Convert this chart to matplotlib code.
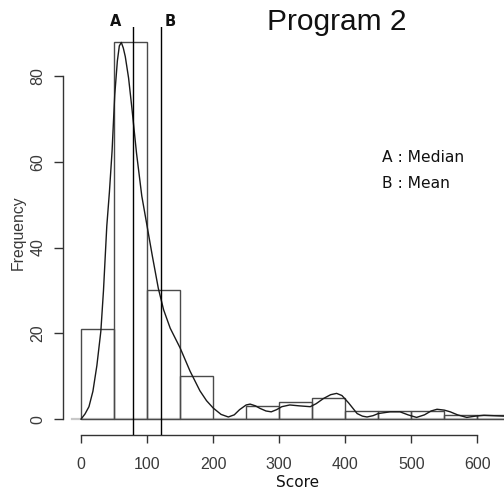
import matplotlib
matplotlib.use("Agg")
import matplotlib.pyplot as plt
import numpy as np

# ---- data ----
bin_edges = [0, 50, 100, 150, 200, 250, 300, 350, 400, 450, 500, 550, 600, 650]
counts = [21, 88, 30, 10, 0, 3, 4, 5, 2, 2, 2, 1, 1]

dens_x = [0, 6, 12, 18, 24, 30, 34, 39, 43, 47, 51, 55, 58, 61, 64, 67, 72, 77,
          84, 92, 100, 108, 117, 125, 135, 150, 165, 180, 190, 200, 212, 223,
          232, 240, 250, 256, 264, 271, 280, 288, 296, 304, 316, 330, 347, 356,
          367, 378, 387, 395, 405, 418, 426, 433, 442, 450, 468, 483, 495, 508,
          520, 530, 539, 550, 559, 570, 584, 597, 610, 625, 640, 660, 700]
dens_y = [0, 1.2, 2.9, 6.5, 12.5, 20.5, 30, 45, 53, 62.5, 75.5, 83.5, 87, 87.8,
          86.5, 84.5, 79.5, 72.5, 62, 52, 45, 38, 30.5, 25.5, 21.2, 16.6, 11.2,
          6.6, 4.3, 2.6, 1.1, 0.5, 1.0, 2.2, 3.3, 3.5, 3.1, 2.5, 1.9, 1.7, 2.2,
          2.9, 3.3, 3.1, 2.9, 3.6, 4.8, 5.7, 6.0, 5.5, 3.8, 1.3, 0.7, 0.5, 0.8,
          1.3, 1.7, 1.7, 1.0, 0.4, 1.0, 1.9, 2.3, 2.1, 1.7, 1.0, 0.4, 0.7, 0.9,
          0.8, 0.7, 0.6, 0.4]

median_val = 78
mean_val = 121

x_ticks = [0, 100, 200, 300, 400, 500, 600]
y_ticks = [0, 20, 40, 60, 80]

title = "Program 2"
xlabel = "Score"
ylabel = "Frequency"
legend_lines = ["A : Median", "B : Mean"]

# ---- figure ----
W, H = 504, 490
fig = plt.figure(figsize=(W / 100, H / 100), dpi=100)
fig.patch.set_facecolor("white")

ax = fig.add_axes([63 / W, 55 / H, 485 / W, 408 / H])
xlo, xhi = -27.3, 707
ax.set_xlim(xlo, xhi)
ax.set_ylim(-3.7, 91.4)
ax.set_facecolor("white")

# zero reference line
ax.axhline(0, xmin=(-13.6 - xlo) / (xhi - xlo), xmax=1, color="#c8c8c8", lw=1.6, zorder=1)

# histogram bars
lefts = bin_edges[:-1]
ax.bar(lefts, counts, width=np.diff(bin_edges), align="edge", fill=False,
       edgecolor="#4a4a4a", linewidth=1.0, zorder=2)

# density curve
ax.plot(dens_x, dens_y, color="#1a1a1a", lw=1.0, zorder=3)

# median / mean lines
ax.axvline(median_val, color="black", lw=1.0, zorder=4)
ax.axvline(mean_val, color="black", lw=1.0, zorder=4)

# axes styling (R-like)
for s in ["top", "right"]:
    ax.spines[s].set_visible(False)
ax.spines["left"].set_bounds(0, 80)
ax.spines["bottom"].set_bounds(0, 600)
for s in ["left", "bottom"]:
    ax.spines[s].set_color("#333333")
    ax.spines[s].set_linewidth(1.0)

ax.set_xticks(x_ticks)
ax.set_xticklabels([str(t) for t in x_ticks], fontfamily="Liberation Sans",
                   fontsize=11.5, color="#3a3a3a")
ax.set_yticks(y_ticks)
ax.set_yticklabels([str(t) for t in y_ticks], fontfamily="Liberation Sans",
                   fontsize=11.5, color="#3a3a3a", rotation=90, va="center")
ax.tick_params(axis="x", direction="out", length=6, width=1.0, color="#333333", pad=10)
ax.tick_params(axis="y", direction="out", length=6.5, width=1.0, color="#333333", pad=6)

# labels
fig.text(298 / W, 1 - 482 / H, xlabel, ha="center", va="center",
         fontfamily="DejaVu Sans", fontsize=11, color="#111111")
fig.text(18 / W, 1 - 233 / H, ylabel, ha="center", va="center", rotation=90,
         fontfamily="Liberation Sans", fontsize=11.3, color="#3a3a3a")

# title
fig.text(337 / W, 1 - 22 / H, title, ha="center", va="center",
         fontfamily="Liberation Sans", fontsize=21.5, color="#111111")

# A / B markers
fig.text(116 / W, 1 - 22 / H, "A", ha="center", va="center",
         fontfamily="DejaVu Sans", fontweight="bold", fontsize=10.5, color="#111111")
fig.text(170 / W, 1 - 22 / H, "B", ha="center", va="center",
         fontfamily="DejaVu Sans", fontweight="bold", fontsize=10.5, color="#111111")

# legend text
fig.text(382 / W, 1 - 157 / H, legend_lines[0], ha="left", va="center",
         fontfamily="DejaVu Sans", fontsize=11.2, color="#111111")
fig.text(382 / W, 1 - 183 / H, legend_lines[1], ha="left", va="center",
         fontfamily="DejaVu Sans", fontsize=11.2, color="#111111")

fig.savefig("out.png", dpi=100, facecolor="white")
